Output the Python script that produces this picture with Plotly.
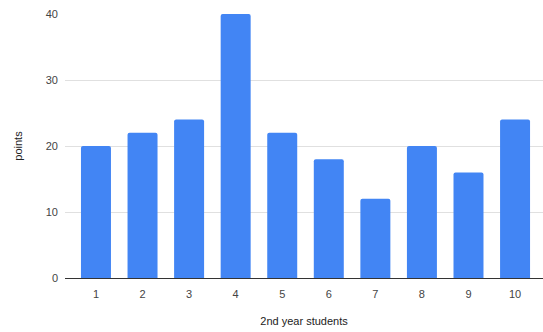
import plotly.graph_objects as go

# Points scored by each 2nd year student
students = [1, 2, 3, 4, 5, 6, 7, 8, 9, 10]
points = [20, 22, 24, 40, 22, 18, 12, 20, 16, 24]
y_ticks = [0, 10, 20, 30, 40]

font_family = "Liberation Sans, Arial, sans-serif"
text_color = "#444444"

fig = go.Figure(
    go.Bar(
        x=students,
        y=points,
        marker=dict(color="#4285F4", line=dict(width=0)),
        width=0.644,
    )
)

fig.update_layout(
    width=543,
    height=332,
    margin=dict(l=65, r=0, t=14, b=54),
    paper_bgcolor="white",
    plot_bgcolor="white",
    showlegend=False,
    barcornerradius=2,
    font=dict(family=font_family, size=11, color=text_color),
)

fig.update_xaxes(
    range=[0.335, 10.6],
    tickmode="array",
    tickvals=students,
    ticktext=[str(s) for s in students],
    showgrid=False,
    zeroline=False,
    showline=True,
    linecolor="#333333",
    linewidth=1,
    ticks="",
    ticklabelstandoff=6,
    title=dict(text="2nd year students", font=dict(size=11, color="#222222"), standoff=18),
)

fig.update_yaxes(
    range=[0, 40],
    tickmode="array",
    tickvals=y_ticks,
    showgrid=True,
    gridcolor="#e0e0e0",
    gridwidth=1,
    zeroline=False,
    ticks="",
    ticklabelstandoff=6,
    title=dict(text="points", font=dict(size=11, color="#222222"), standoff=20),
)

fig.write_html("out.html")
